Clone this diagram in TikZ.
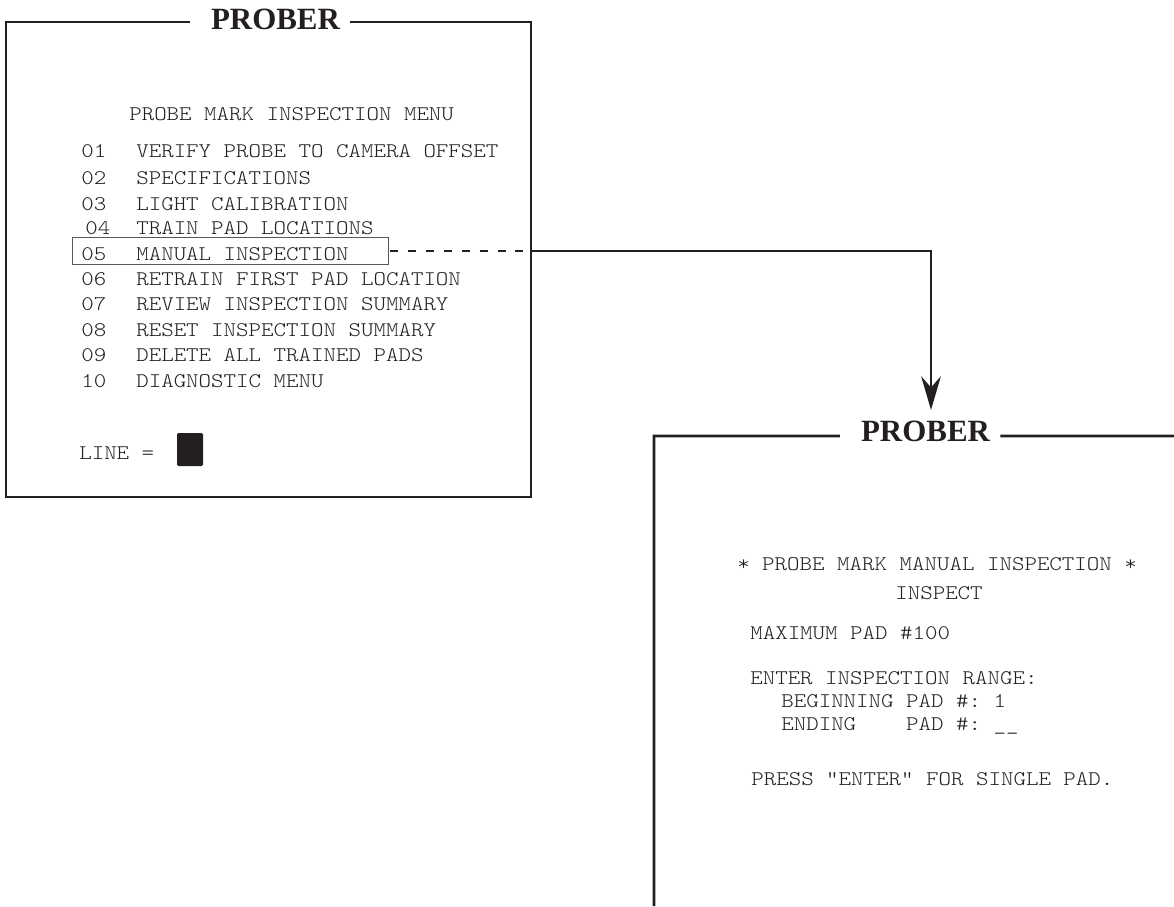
\documentclass[tikz,border=0pt]{standalone}
\usepackage{fontspec}
\setmainfont{Liberation Serif}
\setmonofont{lmmonolt10-regular.otf}[FakeStretch=1.143]
\usepackage{tikz}
\usetikzlibrary{arrows.meta}
\usetikzlibrary{calc}
\definecolor{ink}{RGB}{35,31,32}
\frenchspacing

\begin{document}
\begin{tikzpicture}[x=0.025cm,y=-0.025cm,>={Stealth[length=24pt,width=14pt,inset=8pt]},
  screen/.style={font=\ttfamily\fontsize{14.8pt}{17pt}\selectfont,text=ink,anchor=base west,inner sep=0pt},
  prober/.style={font=\bfseries\fontsize{22pt}{24pt}\selectfont,text=ink,inner sep=0pt},
  frame/.style={draw=ink,line width=1.8pt},
  selbox/.style={draw=ink!75,line width=0.6pt,minimum width=7.9cm,minimum height=0.675cm,inner sep=0pt},
  cursor/.style={fill=ink,rounded corners=1pt,minimum width=0.65cm,minimum height=0.825cm,inner sep=0pt},
  link/.style={draw=ink,line width=1.5pt}]
\useasboundingbox (0,0) rectangle (1174,906);

%menu screen
\node[prober] (title1) at (275.5,19) {PROBER};
\draw[frame] ($(title1.west)+(-21,3)$) -- (6,22) -- (6,497) -- (531,497) -- (531,22) -- ($(title1.east)+(10,3)$);

\node[screen] (head) at (129,121) {PROBE MARK INSPECTION MENU};
\node[screen] (n01) at (81,157) {01};
\node[screen] (m01) at (136,157) {VERIFY PROBE TO CAMERA OFFSET};
\node[screen] (n02) at (81,184) {02};
\node[screen] (m02) at (136,184) {SPECIFICATIONS};
\node[screen] (n03) at (81,210) {03};
\node[screen] (m03) at (136,210) {LIGHT CALIBRATION};
\node[screen] (n04) at (85,234) {04};
\node[screen] (m04) at (136,234) {TRAIN PAD LOCATIONS};
\node[screen] (n05) at (81,260) {05};
\node[screen] (m05) at (136,260) {MANUAL INSPECTION};
\node[screen] (n06) at (81,285) {06};
\node[screen] (m06) at (136,285) {RETRAIN FIRST PAD LOCATION};
\node[screen] (n07) at (81,310) {07};
\node[screen] (m07) at (136,310) {REVIEW INSPECTION SUMMARY};
\node[screen] (n08) at (81,336) {08};
\node[screen] (m08) at (136,336) {RESET INSPECTION SUMMARY};
\node[screen] (n09) at (81,361) {09};
\node[screen] (m09) at (136,361) {DELETE ALL TRAINED PADS};
\node[screen] (n10) at (81,387) {10};
\node[screen] (m10) at (136,387) {DIAGNOSTIC MENU};

%selected entry
\node[selbox] (sel) at (230,251) {};

%prompt
\node[screen] (prompt) at (79,459) {LINE =};
\node[cursor] (cur) at (190,449.5) {};

%link to the next screen
\coordinate (drop) at (931,410);
\draw[link,dash pattern=on 5.7pt off 7pt] (sel.east) ++(2,0) -- ++(141,0) coordinate (edge);
\draw[link,->] (edge) -- (edge -| drop) -- (drop);

%inspection screen
\node[prober] (title2) at (925.5,431.5) {PROBER};
\draw[frame] ($(title2.west)+(-21,4.5)$) -- (654,436) -- (654,906);
\draw[frame] ($(title2.east)+(10,4.5)$) -- (1174,436);

\node[screen] (head2) at (737,570) {* PROBE MARK MANUAL INSPECTION *};
\node[screen] (mode) at (895,599) {INSPECT};
\node[screen] (maxpad) at (750,639) {MAXIMUM PAD \#100};
\node[screen] (range) at (750,684) {ENTER INSPECTION RANGE:};
\node[screen] (first) at (781,707) {BEGINNING PAD \#: 1};
\node[screen] (last) at (781,730) {ENDING~~~~PAD \#: \_\_};
\node[screen] (hint) at (751,785) {PRESS "ENTER" FOR SINGLE PAD.};

\end{tikzpicture}
\end{document}
